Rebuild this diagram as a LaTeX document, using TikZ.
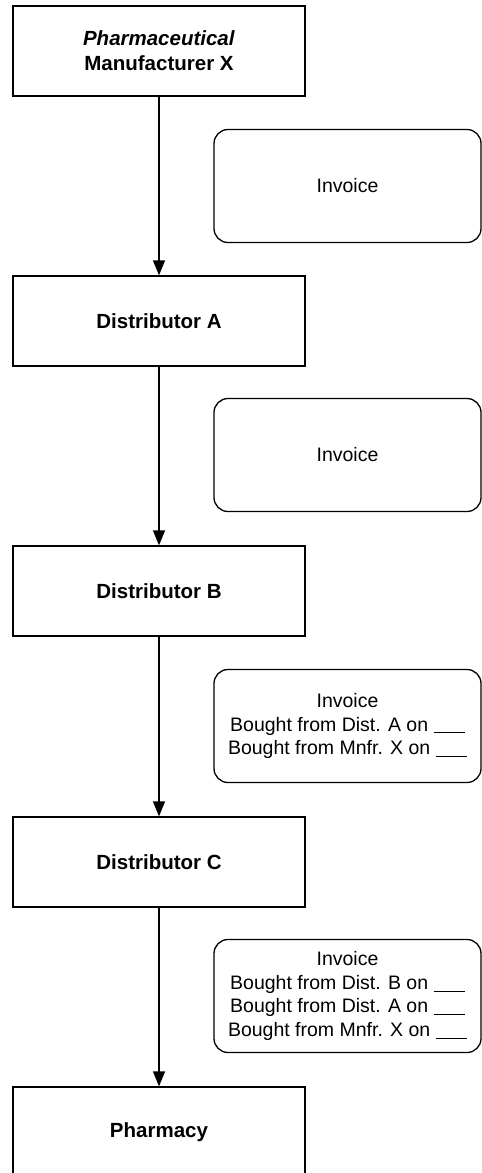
\documentclass[tikz,border=0pt]{standalone}
\usepackage{fontspec}
\setmainfont{Liberation Sans}
\usetikzlibrary{arrows.meta}
\tikzset{
  mainbox/.style={draw=black, line width=1.3pt, minimum width=292pt, minimum height=90pt,
    inner sep=0pt, align=center, font=\fontsize{20.5}{25}\selectfont\bfseries},
  invbox/.style={draw=black, line width=1.3pt, rounded corners=14pt, minimum width=267pt,
    minimum height=113pt, inner sep=0pt, align=center, font=\fontsize{19.5}{23.5}\selectfont},
  arr/.style={line width=1.3pt, -{Triangle[length=15pt,width=12pt]}}
}
\begin{document}
\begin{tikzpicture}[x=1pt,y=-1pt]
\useasboundingbox (0,0) rectangle (482,1173);
\clip (0,0) rectangle (482,1173);
\node[mainbox] (m) at (159,51) {\textit{Pharmaceutical}\\Manufacturer X};
\node[mainbox] (a) at (159,321) {Distributor A};
\node[mainbox] (b) at (159,591) {Distributor B};
\node[mainbox] (c) at (159,862) {Distributor C};
\node[mainbox] (p) at (159,1132) {Pharmacy};
\node[invbox] (i1) at (347.5,186) {Invoice};
\node[invbox] (i2) at (347.5,455) {Invoice};
\node[invbox] (i3) at (347.5,726) {Invoice\\Bought from Dist. A on \underline{\hspace{1.6em}}\\Bought from Mnfr. X on \underline{\hspace{1.6em}}};
\node[invbox] (i4) at (347.5,996) {Invoice\\Bought from Dist. B on \underline{\hspace{1.6em}}\\Bought from Dist. A on \underline{\hspace{1.6em}}\\Bought from Mnfr. X on \underline{\hspace{1.6em}}};
\draw[arr] (m.south) -- (a.north);
\draw[arr] (a.south) -- (b.north);
\draw[arr] (b.south) -- (c.north);
\draw[arr] (c.south) -- (p.north);
\end{tikzpicture}
\end{document}
